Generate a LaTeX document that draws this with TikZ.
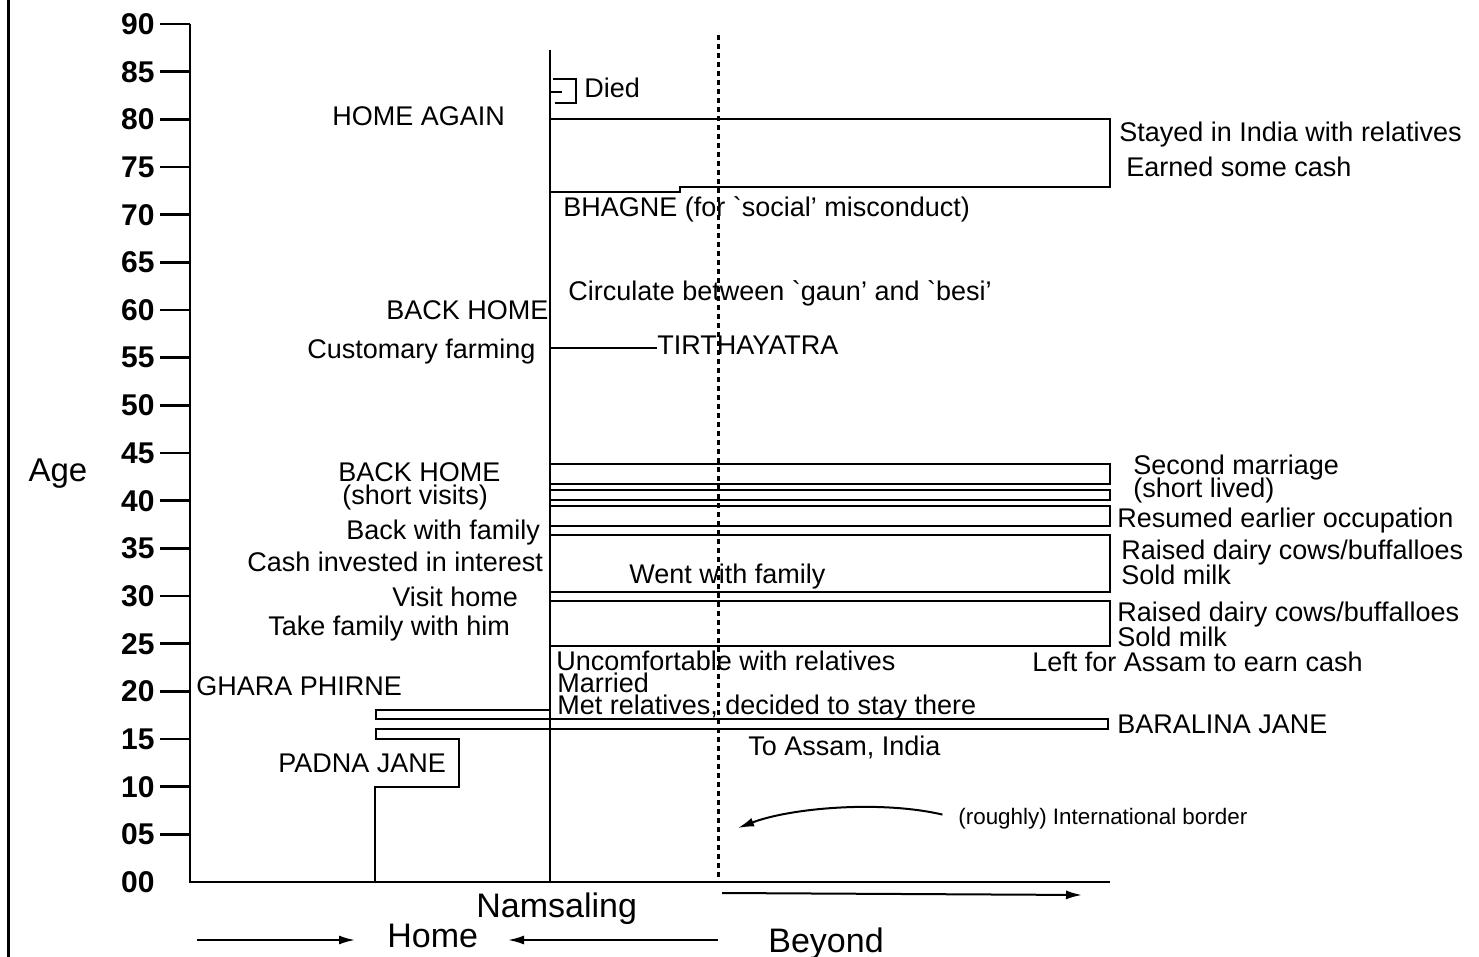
\documentclass[tikz,border=0pt]{standalone}
\usepackage{fontspec}
\setmainfont{Liberation Sans}
\usetikzlibrary{arrows.meta, positioning}

\begin{document}
\begin{tikzpicture}[x=0.5pt, y=-0.5pt,
    lbl/.style={inner sep=0pt, anchor=base west, font=\fontsize{13.5}{14}\selectfont},
    big/.style={inner sep=0pt, anchor=base west, font=\fontsize{17}{18}\selectfont},
    num/.style={inner sep=0pt, anchor=east, font=\fontsize{15}{16}\selectfont\bfseries},
    life/.style={line width=1.3pt},
    border/.style={line width=1.5pt, dash pattern=on 2.5pt off 2pt},
    arr/.style={-{Latex[length=8pt,width=4.5pt]}, line width=1pt}
  ]
  \useasboundingbox (0,0) rectangle (1479,957);

  % frame line at left
  \draw[line width=1.5pt] (8,0) -- (8,957);

  % Age axis
  \draw[life] (190,24) -- (190,882) -- (1110,882);
  \foreach \a in {5,10,...,90} {
    \pgfmathsetmacro\yy{882-9.533*\a}
    \draw[life] (160,\yy) -- (190,\yy);
    \node[num] (t\a) at (155,\yy) {\ifnum\a<10 0\fi\a};
  }
  \node[num] (t0) at (155,882) {00};
  \node[inner sep=0pt, anchor=base, font=\fontsize{16.5}{17}\selectfont]
        (age) at (58,481) {Age};

  % Namsaling line and (rough) border
  \draw[life] (550,50) -- (550,882);
  \draw[border] (718,35) -- (718,882);

  % Old age
  \draw[life] (553,79) -- (576,79) -- (576,103) -- (555,103);
  \draw[life] (551,92) -- (562,92);
  \node[lbl] (died) at (584,98) {Died};
  \draw[life] (550,119) -- (1110,119) -- (1110,187) -- (680,187)
              -- (680,192) -- (550,192);
  \node[lbl] (again)  at (332,126) {HOME AGAIN};
  \node[lbl] (stayed) at (1119,142) {Stayed in India with relatives};
  \node[lbl] (earned) at (1126,177) {Earned some cash};
  \node[lbl] (bhagne) at (563,217) {BHAGNE (for \textasciigrave social' misconduct)};

  % Middle years
  \node[lbl] (circ)  at (568,301) {Circulate between \textasciigrave gaun' and \textasciigrave besi'};
  \node[lbl] (back1) at (386,320) {BACK HOME};
  \node[lbl] (farm)  at (307,358) {Customary farming};
  \node[lbl] (tirtha) at (657,355) {TIRTHAYATRA};
  \draw[life] (550,348) -- (tirtha.west |- 0,348);

  % Working years, top to bottom
  \draw[life] (550,464) rectangle (1110,484);
  \draw[life] (550,490) rectangle (1110,500);
  \draw[life] (550,506) rectangle (1110,526);
  \draw[life] (550,535) rectangle (1110,592);
  \draw[life] (550,601) rectangle (1110,646);

  \node[lbl] (back2)   at (338,481) {BACK HOME};
  \node[lbl] (visits)  at (342,504) {(short visits)};
  \node[lbl] (second)  at (1133,474) {Second marriage};
  \node[lbl] (short)   at (1133,497) {(short lived)};
  \node[lbl] (bwfam)   at (346,539) {Back with family};
  \node[lbl] (resumed) at (1117,527) {Resumed earlier occupation};
  \node[lbl] (dairy1)  at (1121,559) {Raised dairy cows/buffalloes};
  \node[lbl] (milk1)   at (1121,584) {Sold milk};
  \node[lbl] (cash)    at (247,571) {Cash invested in interest};
  \node[lbl] (went)    at (629,583) {Went with family};
  \node[lbl] (visit)   at (392,606) {Visit home};
  \node[lbl] (dairy2)  at (1117,621) {Raised dairy cows/buffalloes};
  \node[lbl] (milk2)   at (1117,646) {Sold milk};
  \node[lbl] (take)    at (268,635) {Take family with him};

  % Young years
  \node[lbl] (uncomf)  at (556,670) {Uncomfortable with relatives};
  \node[lbl] (left)    at (1032,671) {Left for Assam to earn cash};
  \node[lbl] (married) at (557,692) {Married};
  \node[lbl] (ghara)   at (196,695) {GHARA PHIRNE};
  \node[lbl] (met)     at (557,714) {Met relatives, decided to stay there};
  \node[lbl] (baral)   at (1117,733) {BARALINA JANE};
  \node[lbl] (assam)   at (748,755) {To Assam, India};
  \node[lbl] (padna)   at (278,772) {PADNA JANE};
  \draw[life] (550,710) -- (376,710) -- (376,719) -- (1108,719) -- (1108,729)
              -- (376,729) -- (376,739) -- (459,739) -- (459,787)
              -- (375,787) -- (375,882);

  % border note
  \node[inner sep=0pt, anchor=base west, font=\fontsize{11.2}{12}\selectfont]
        (note) at (958,824) {(roughly) International border};
  \coordinate (bnd) at (738,828);
  \draw[arr, shorten <=8pt] (note.west) .. controls (880,800) and (790,808) .. (bnd);

  % places along the bottom
  \node[big] (nams)   at (476,917) {Namsaling};
  \node[big] (home)   at (387,947) {Home};
  \node[big] (beyond) at (768,952) {Beyond};
  \coordinate (outL) at (722,893);
  \coordinate (outR) at (1082,895);
  \coordinate (inL)  at (197,940);
  \coordinate (inR)  at (355,940);
  \coordinate (backR) at (718,940);
  \coordinate (backL) at (508,940);
  \draw[arr] (outL) -- (outR);
  \draw[arr] (inL) -- (inR);
  \draw[arr] (backR) -- (backL);
\end{tikzpicture}
\end{document}
